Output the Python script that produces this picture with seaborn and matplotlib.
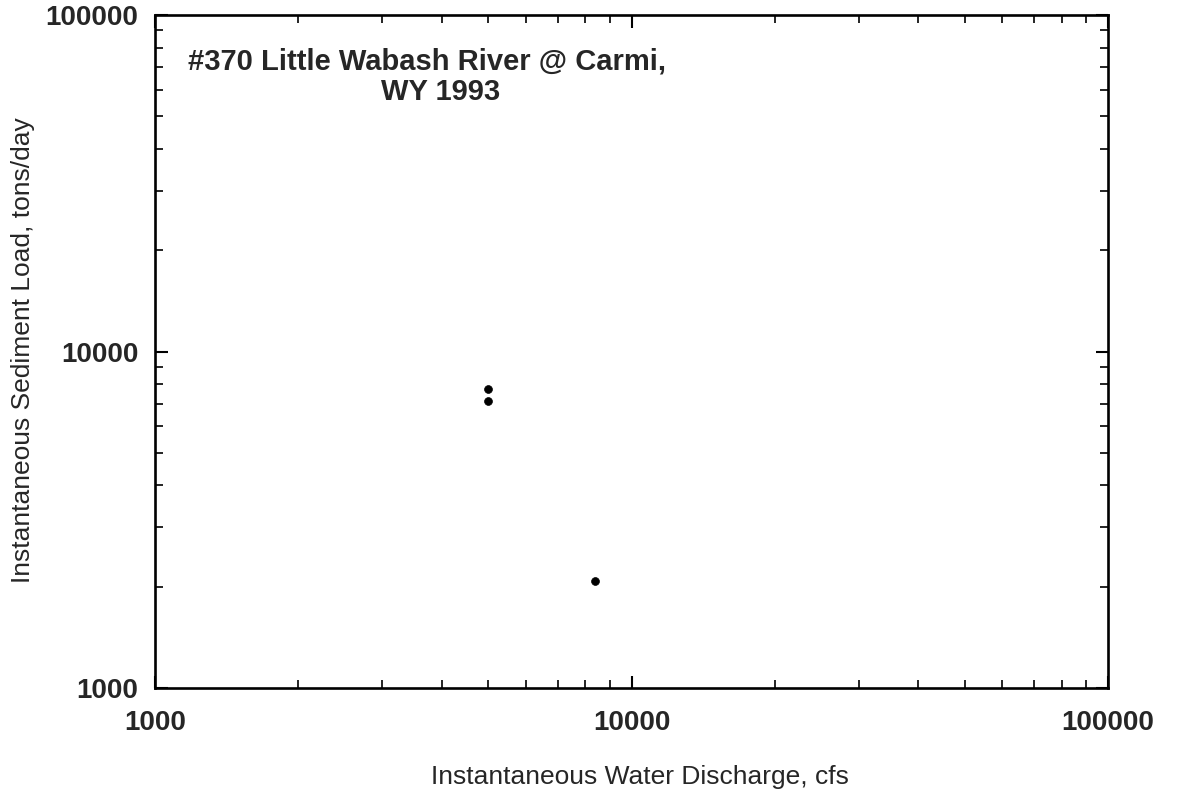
import numpy as np
import pandas as pd
import matplotlib
matplotlib.use("Agg")
import matplotlib.pyplot as plt
import seaborn as sns
from matplotlib.ticker import LogLocator, NullFormatter, FixedLocator, FixedFormatter

# Data
discharge_cfs = [5000, 5000, 8400]
sediment_tons_day = [7750, 7150, 2080]

x_ticks = [1000, 10000, 100000]
x_tick_labels = ["1000", "10000", "100000"]
y_ticks = [1000, 10000, 100000]
y_tick_labels = ["1000", "10000", "100000"]

title_line1 = "#370 Little Wabash River @ Carmi,"
title_line2 = "WY 1993"
x_label = "Instantaneous Water Discharge, cfs"
y_label = "Instantaneous Sediment Load, tons/day"

sns.set_theme(style="ticks")
plt.rcParams['font.family'] = ['Liberation Sans', 'DejaVu Sans']

df = pd.DataFrame({"Q": discharge_cfs, "S": sediment_tons_day})

W, H = 1177, 798
fig = plt.figure(figsize=(W / 100, H / 100), dpi=100)
ax = fig.add_axes([155 / W, 1 - 688 / H, (1108 - 155) / W, (688 - 15) / H])

sns.scatterplot(data=df, x="Q", y="S", ax=ax, color="black", s=32,
                edgecolor="black", linewidth=0.5, legend=False)

ax.set_xscale("log")
ax.set_yscale("log")
ax.set_xlim(1000, 100000)
ax.set_ylim(1000, 100000)

ax.xaxis.set_major_locator(FixedLocator(x_ticks))
ax.xaxis.set_major_formatter(FixedFormatter(x_tick_labels))
ax.yaxis.set_major_locator(FixedLocator(y_ticks))
ax.yaxis.set_major_formatter(FixedFormatter(y_tick_labels))
ax.xaxis.set_minor_locator(LogLocator(base=10, subs=np.arange(2, 10)))
ax.yaxis.set_minor_locator(LogLocator(base=10, subs=np.arange(2, 10)))
ax.xaxis.set_minor_formatter(NullFormatter())
ax.yaxis.set_minor_formatter(NullFormatter())

for s in ax.spines.values():
    s.set_linewidth(1.9)
    s.set_color("black")

ax.tick_params(which="both", direction="in", top=True, right=True, color="black")
ax.tick_params(which="major", length=9, width=1.5)
ax.tick_params(which="minor", length=6, width=1.2)
ax.tick_params(axis="x", which="major", pad=16, labelsize=20)
ax.tick_params(axis="y", which="major", pad=12, labelsize=20)
for lab in ax.get_xticklabels() + ax.get_yticklabels():
    lab.set_fontweight("bold")

ax.set_xlabel("")
ax.set_ylabel("")
fig.text(640 / W, 1 - 777 / H, x_label, fontsize=19, ha="center", va="center")
fig.text(23 / W, 1 - 350 / H, y_label, fontsize=19, ha="center", va="center",
         rotation=90)

fig.text(188 / W, 1 - 61 / H, title_line1, fontsize=21,
         fontweight="bold", ha="left", va="center")
fig.text(441 / W, 1 - 92 / H, title_line2, fontsize=21,
         fontweight="bold", ha="center", va="center")

fig.savefig("out.png", dpi=100, facecolor="white")
